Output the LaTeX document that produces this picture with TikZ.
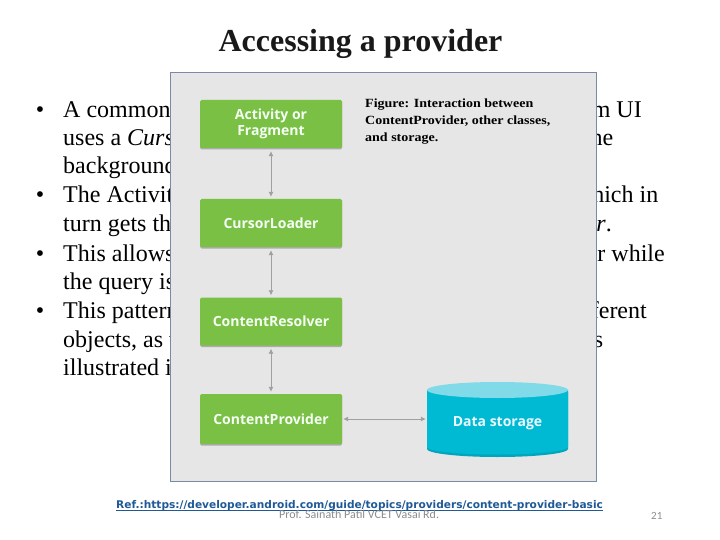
\documentclass[tikz,border=0pt]{standalone}
\usepackage{fontspec}
\setmainfont{Liberation Serif}
\newfontfamily\boxfont{Open Sans}
\newfontfamily\capfont[FakeStretch=1.12]{Liberation Serif}
\newfontfamily\reffont{DejaVu Sans}
\newfontfamily\footfont{Carlito}
\usetikzlibrary{arrows.meta,shadows}
\definecolor{boxgreen}{RGB}{121,192,68}
\definecolor{figbg}{RGB}{230,230,230}
\definecolor{figborder}{RGB}{120,138,165}
\definecolor{cylbody}{RGB}{0,186,212}
\definecolor{cyltop}{RGB}{128,218,232}
\definecolor{cylrim}{RGB}{0,165,190}
\definecolor{arrowgray}{RGB}{160,160,160}
\definecolor{refblue}{RGB}{31,90,150}
\definecolor{footgray}{RGB}{140,140,140}
\definecolor{titleblack}{RGB}{25,25,25}
\begin{document}
\begin{tikzpicture}[x=1pt,y=-1pt,
  bodytext/.style={inner sep=0pt, font=\fontsize{24}{28}\selectfont},
  bulletL/.style={bodytext, anchor=base west},
  bulletR/.style={bodytext, anchor=base east},
  bulletdot/.style={bodytext, anchor=base},
  gbox/.style={fill=boxgreen, text=white!96!green, font=\boxfont\bfseries\fontsize{14}{16.7}\selectfont,
    minimum width=142pt, minimum height=48pt, inner sep=2pt, align=center, rounded corners=1.5pt,
    drop shadow={opacity=0.25, shadow xshift=0pt, shadow yshift=-1.5pt, fill=black}},
  conn/.style={draw=arrowgray, line width=0.8pt, {Latex[length=5pt,width=5pt]}-{Latex[length=5pt,width=5pt]}},
  capline/.style={anchor=base west, inner sep=0pt, font=\capfont\bfseries\fontsize{12.5}{17}\selectfont}
]
\useasboundingbox (0,0) rectangle (720,540);
\fill[white] (0,0) rectangle (720,540);

% title
\node[anchor=base, inner sep=0pt, text=titleblack, font=\bfseries\fontsize{32}{36}\selectfont] (title) at (360.5,52) {Accessing a provider};

% bullets
\node[bulletdot] (d1) at (40,117.5) {•};
\node[bulletdot] (d2) at (40,203) {•};
\node[bulletdot] (d3) at (40,261) {•};
\node[bulletdot] (d4) at (40,318.5) {•};

% body lines (the middle of each line lies under the figure panel)
\node[bulletL] (l1a) at (63,117.5) {A common};
\node[bulletR] (l1b) at (642,117.5) {from UI};
\node[bulletL] (l2a) at (63,145.5) {uses a \textit{Cursor}};
\node[bulletR] (l2b) at (613.5,145.5) {in the};
\node[bulletL] (l3a) at (63,173.5) {background.};
\node[bulletL] (l4a) at (63,203) {The Activity};
\node[bulletR] (l4b) at (658.5,203) {which in};
\node[bulletL] (l5a) at (63,231.5) {turn gets the};
\node[bulletR] (l5b) at (612,231.5) {\textit{ContentResolver}.};
\node[bulletL] (l6a) at (63,261) {This allows the};
\node[bulletR] (l6b) at (665,261) {user while};
\node[bulletL] (l7a) at (63,289.5) {the query is running.};
\node[bulletL] (l8a) at (63,318.5) {This pattern};
\node[bulletR] (l8b) at (647,318.5) {different};
\node[bulletL] (l9a) at (63,347) {objects, as well};
\node[bulletR] (l9b) at (603.5,347) {as};
\node[bulletL] (l10a) at (63,375.5) {illustrated in figure 2.};

% figure panel
\filldraw[fill=figbg, draw=figborder, line width=1pt] (170.5,73) rectangle (596,481);

% caption
\node[capline] (cap1) at (365,107.3) {Figure: Interaction between};
\node[capline] (cap2) at (365,124.3) {ContentProvider, other classes,};
\node[capline] (cap3) at (365,141.3) {and storage.};

% green boxes
\node[gbox] (af) at (271,124) {Activity or\\Fragment};
\node[gbox] (cl) at (271,223) {CursorLoader};
\node[gbox] (cr) at (271,321.5) {ContentResolver};
\node[gbox, minimum height=50pt] (cp) at (271,419) {ContentProvider};

% data storage cylinder
\fill[cylrim] (427,392) -- (427,449) arc[start angle=180, end angle=0, x radius=70.5, y radius=8] -- (568,392) -- cycle;
\fill[cylbody] (427,390) -- (427,447) arc[start angle=180, end angle=0, x radius=70.5, y radius=7.5] -- (568,390) -- cycle;
\fill[cyltop] (497.5,390) ellipse[x radius=70.5, y radius=8];
\node[inner sep=0pt, minimum width=141pt, minimum height=20pt, text=white!92!cyan,
  font=\boxfont\bfseries\fontsize{14}{16}\selectfont] (ds) at (497.5,423) {Data storage};

% connectors
\draw[conn, shorten <=3pt, shorten >=2pt] (af) -- (cl);
\draw[conn, shorten <=3pt, shorten >=2pt] (cl) -- (cr);
\draw[conn, shorten <=3pt, shorten >=2pt] (cr) -- (cp);
\draw[conn, shorten <=1pt, shorten >=1pt] (cp.east) -- (cp.east -| ds.west);

% footer
\node[anchor=base west, inner sep=0pt, text=refblue, font=\reffont\bfseries\fontsize{10.6}{12}\selectfont] (ref) at (116,508.7) {Ref.:https://developer.android.com/guide/topics/providers/content-provider-basic};
\draw[refblue, line width=0.8pt] ([yshift=-1.6pt]ref.base west) -- ([yshift=-1.6pt]ref.base east);
\node[anchor=base west, inner sep=0pt, text=footgray, font=\footfont\fontsize{12}{14}\selectfont] (prof) at (279,518.5) {Prof. Sainath Patil VCET Vasai Rd.};
\node[anchor=base west, inner sep=0pt, text=footgray, font=\footfont\fontsize{11}{13}\selectfont] (pg) at (651,519) {21};
\end{tikzpicture}
\end{document}
